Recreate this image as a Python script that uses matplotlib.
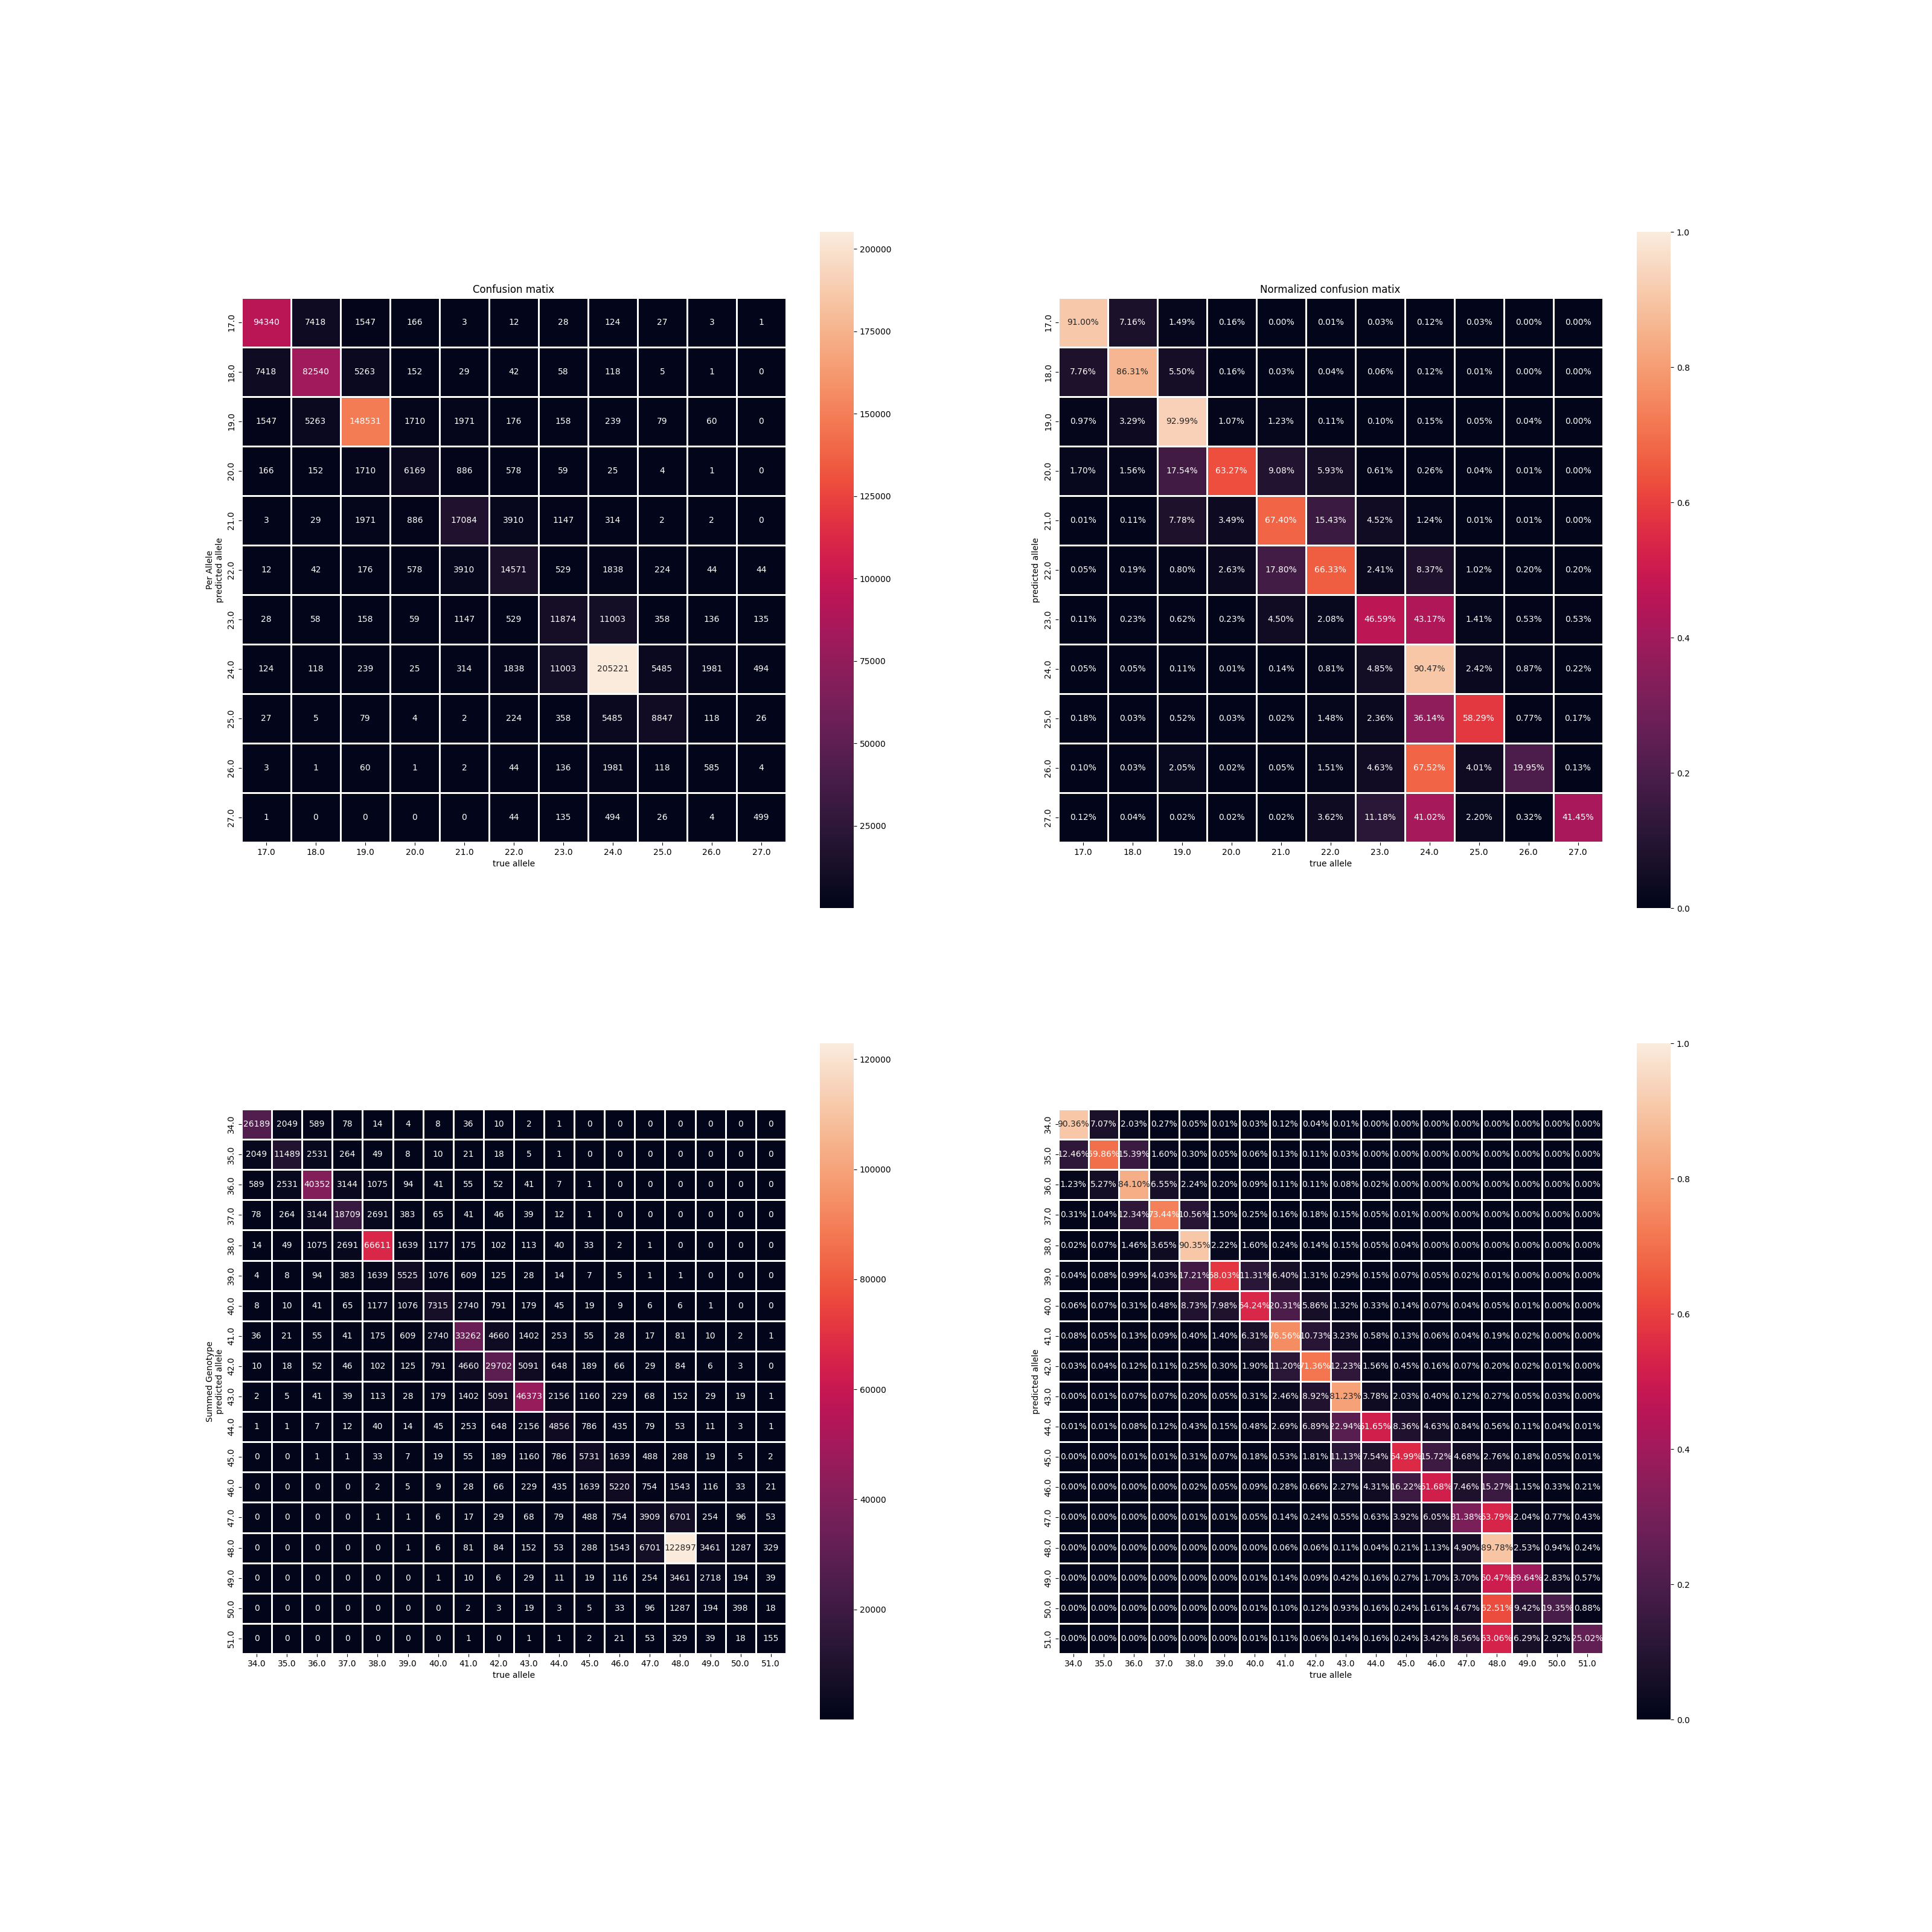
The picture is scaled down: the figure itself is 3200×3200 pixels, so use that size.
import numpy as np
import matplotlib
matplotlib.use('Agg')
import matplotlib.pyplot as plt
import seaborn as sns

# per allele confusion (rows: predicted, cols: true)
allele_labels = [17.0, 18.0, 19.0, 20.0, 21.0, 22.0, 23.0, 24.0, 25.0, 26.0, 27.0]

allele_counts = [
    [94340, 7418, 1547, 166, 3, 12, 28, 124, 27, 3, 1],
    [7418, 82540, 5263, 152, 29, 42, 58, 118, 5, 1, 0],
    [1547, 5263, 148531, 1710, 1971, 176, 158, 239, 79, 60, 0],
    [166, 152, 1710, 6169, 886, 578, 59, 25, 4, 1, 0],
    [3, 29, 1971, 886, 17084, 3910, 1147, 314, 2, 2, 0],
    [12, 42, 176, 578, 3910, 14571, 529, 1838, 224, 44, 44],
    [28, 58, 158, 59, 1147, 529, 11874, 11003, 358, 136, 135],
    [124, 118, 239, 25, 314, 1838, 11003, 205221, 5485, 1981, 494],
    [27, 5, 79, 4, 2, 224, 358, 5485, 8847, 118, 26],
    [3, 1, 60, 1, 2, 44, 136, 1981, 118, 585, 4],
    [1, 0, 0, 0, 0, 44, 135, 494, 26, 4, 499],
]

# normalized values in percent
allele_norm = [
    [91.00, 7.16, 1.49, 0.16, 0.00, 0.01, 0.03, 0.12, 0.03, 0.00, 0.00],
    [7.76, 86.31, 5.50, 0.16, 0.03, 0.04, 0.06, 0.12, 0.01, 0.00, 0.00],
    [0.97, 3.29, 92.99, 1.07, 1.23, 0.11, 0.10, 0.15, 0.05, 0.04, 0.00],
    [1.70, 1.56, 17.54, 63.27, 9.08, 5.93, 0.61, 0.26, 0.04, 0.01, 0.00],
    [0.01, 0.11, 7.78, 3.49, 67.40, 15.43, 4.52, 1.24, 0.01, 0.01, 0.00],
    [0.05, 0.19, 0.80, 2.63, 17.80, 66.33, 2.41, 8.37, 1.02, 0.20, 0.20],
    [0.11, 0.23, 0.62, 0.23, 4.50, 2.08, 46.59, 43.17, 1.41, 0.53, 0.53],
    [0.05, 0.05, 0.11, 0.01, 0.14, 0.81, 4.85, 90.47, 2.42, 0.87, 0.22],
    [0.18, 0.03, 0.52, 0.03, 0.02, 1.48, 2.36, 36.14, 58.29, 0.77, 0.17],
    [0.10, 0.03, 2.05, 0.02, 0.05, 1.51, 4.63, 67.52, 4.01, 19.95, 0.13],
    [0.12, 0.04, 0.02, 0.02, 0.02, 3.62, 11.18, 41.02, 2.20, 0.32, 41.45],
]

# summed genotype confusion
geno_labels = [34.0, 35.0, 36.0, 37.0, 38.0, 39.0, 40.0, 41.0, 42.0,
               43.0, 44.0, 45.0, 46.0, 47.0, 48.0, 49.0, 50.0, 51.0]

geno_counts = [
    [26189, 2049, 589, 78, 14, 4, 8, 36, 10, 2, 1, 0, 0, 0, 0, 0, 0, 0],
    [2049, 11489, 2531, 264, 49, 8, 10, 21, 18, 5, 1, 0, 0, 0, 0, 0, 0, 0],
    [589, 2531, 40352, 3144, 1075, 94, 41, 55, 52, 41, 7, 1, 0, 0, 0, 0, 0, 0],
    [78, 264, 3144, 18709, 2691, 383, 65, 41, 46, 39, 12, 1, 0, 0, 0, 0, 0, 0],
    [14, 49, 1075, 2691, 66611, 1639, 1177, 175, 102, 113, 40, 33, 2, 1, 0, 0, 0, 0],
    [4, 8, 94, 383, 1639, 5525, 1076, 609, 125, 28, 14, 7, 5, 1, 1, 0, 0, 0],
    [8, 10, 41, 65, 1177, 1076, 7315, 2740, 791, 179, 45, 19, 9, 6, 6, 1, 0, 0],
    [36, 21, 55, 41, 175, 609, 2740, 33262, 4660, 1402, 253, 55, 28, 17, 81, 10, 2, 1],
    [10, 18, 52, 46, 102, 125, 791, 4660, 29702, 5091, 648, 189, 66, 29, 84, 6, 3, 0],
    [2, 5, 41, 39, 113, 28, 179, 1402, 5091, 46373, 2156, 1160, 229, 68, 152, 29, 19, 1],
    [1, 1, 7, 12, 40, 14, 45, 253, 648, 2156, 4856, 786, 435, 79, 53, 11, 3, 1],
    [0, 0, 1, 1, 33, 7, 19, 55, 189, 1160, 786, 5731, 1639, 488, 288, 19, 5, 2],
    [0, 0, 0, 0, 2, 5, 9, 28, 66, 229, 435, 1639, 5220, 754, 1543, 116, 33, 21],
    [0, 0, 0, 0, 1, 1, 6, 17, 29, 68, 79, 488, 754, 3909, 6701, 254, 96, 53],
    [0, 0, 0, 0, 0, 1, 6, 81, 84, 152, 53, 288, 1543, 6701, 122897, 3461, 1287, 329],
    [0, 0, 0, 0, 0, 0, 1, 10, 6, 29, 11, 19, 116, 254, 3461, 2718, 194, 39],
    [0, 0, 0, 0, 0, 0, 0, 2, 3, 19, 3, 5, 33, 96, 1287, 194, 398, 18],
    [0, 0, 0, 0, 0, 0, 0, 1, 0, 1, 1, 2, 21, 53, 329, 39, 18, 155],
]

geno_norm = [
    [90.36, 7.07, 2.03, 0.27, 0.05, 0.01, 0.03, 0.12, 0.04, 0.01, 0.00, 0.00, 0.00, 0.00, 0.00, 0.00, 0.00, 0.00],
    [12.46, 69.86, 15.39, 1.60, 0.30, 0.05, 0.06, 0.13, 0.11, 0.03, 0.00, 0.00, 0.00, 0.00, 0.00, 0.00, 0.00, 0.00],
    [1.23, 5.27, 84.10, 6.55, 2.24, 0.20, 0.09, 0.11, 0.11, 0.08, 0.02, 0.00, 0.00, 0.00, 0.00, 0.00, 0.00, 0.00],
    [0.31, 1.04, 12.34, 73.44, 10.56, 1.50, 0.25, 0.16, 0.18, 0.15, 0.05, 0.01, 0.00, 0.00, 0.00, 0.00, 0.00, 0.00],
    [0.02, 0.07, 1.46, 3.65, 90.35, 2.22, 1.60, 0.24, 0.14, 0.15, 0.05, 0.04, 0.00, 0.00, 0.00, 0.00, 0.00, 0.00],
    [0.04, 0.08, 0.99, 4.03, 17.21, 58.03, 11.31, 6.40, 1.31, 0.29, 0.15, 0.07, 0.05, 0.02, 0.01, 0.00, 0.00, 0.00],
    [0.06, 0.07, 0.31, 0.48, 8.73, 7.98, 54.24, 20.31, 5.86, 1.32, 0.33, 0.14, 0.07, 0.04, 0.05, 0.01, 0.00, 0.00],
    [0.08, 0.05, 0.13, 0.09, 0.40, 1.40, 6.31, 76.56, 10.73, 3.23, 0.58, 0.13, 0.06, 0.04, 0.19, 0.02, 0.00, 0.00],
    [0.03, 0.04, 0.12, 0.11, 0.25, 0.30, 1.90, 11.20, 71.36, 12.23, 1.56, 0.45, 0.16, 0.07, 0.20, 0.02, 0.01, 0.00],
    [0.00, 0.01, 0.07, 0.07, 0.20, 0.05, 0.31, 2.46, 8.92, 81.23, 3.78, 2.03, 0.40, 0.12, 0.27, 0.05, 0.03, 0.00],
    [0.01, 0.01, 0.08, 0.12, 0.43, 0.15, 0.48, 2.69, 6.89, 22.94, 51.65, 8.36, 4.63, 0.84, 0.56, 0.11, 0.04, 0.01],
    [0.00, 0.00, 0.01, 0.01, 0.31, 0.07, 0.18, 0.53, 1.81, 11.13, 7.54, 54.99, 15.72, 4.68, 2.76, 0.18, 0.05, 0.01],
    [0.00, 0.00, 0.00, 0.00, 0.02, 0.05, 0.09, 0.28, 0.66, 2.27, 4.31, 16.22, 51.68, 7.46, 15.27, 1.15, 0.33, 0.21],
    [0.00, 0.00, 0.00, 0.00, 0.01, 0.01, 0.05, 0.14, 0.24, 0.55, 0.63, 3.92, 6.05, 31.38, 53.79, 2.04, 0.77, 0.43],
    [0.00, 0.00, 0.00, 0.00, 0.00, 0.00, 0.00, 0.06, 0.06, 0.11, 0.04, 0.21, 1.13, 4.90, 89.78, 2.53, 0.94, 0.24],
    [0.00, 0.00, 0.00, 0.00, 0.00, 0.00, 0.01, 0.14, 0.09, 0.42, 0.16, 0.27, 1.70, 3.70, 50.47, 39.64, 2.83, 0.57],
    [0.00, 0.00, 0.00, 0.00, 0.00, 0.00, 0.01, 0.10, 0.12, 0.93, 0.16, 0.24, 1.61, 4.67, 62.51, 9.42, 19.35, 0.88],
    [0.00, 0.00, 0.00, 0.00, 0.00, 0.00, 0.01, 0.11, 0.06, 0.14, 0.16, 0.24, 3.42, 8.56, 53.06, 6.29, 2.92, 25.02],
]


def draw(ax, values, labels, fmt, ylabel, title=None, vmin=None, vmax=None):
    ticks = [f'{v:.1f}' for v in labels]
    sns.heatmap(values, annot=True, fmt=fmt, square=True, linewidths=1,
                linecolor='white', xticklabels=ticks, yticklabels=ticks,
                vmin=vmin, vmax=vmax, ax=ax)
    ax.set_xlabel('true allele')
    ax.set_ylabel(ylabel)
    if title:
        ax.set_title(title)


fig, axes = plt.subplots(2, 2, figsize=(32, 32))

# count colourbars start just above zero (no 0 tick in the original)
draw(axes[0, 0], np.array(allele_counts), allele_labels, 'd',
     'Per Allele\npredicted allele', 'Confusion matix', vmin=1)
draw(axes[0, 1], np.array(allele_norm) / 100, allele_labels, '.2%',
     'predicted allele', 'Normalized confusion matix', 0, 1)
draw(axes[1, 0], np.array(geno_counts), geno_labels, 'd',
     'Summed Genotype\npredicted allele', vmin=1)
draw(axes[1, 1], np.array(geno_norm) / 100, geno_labels, '.2%',
     'predicted allele', None, 0, 1)

fig.savefig('out.png', dpi=100)
